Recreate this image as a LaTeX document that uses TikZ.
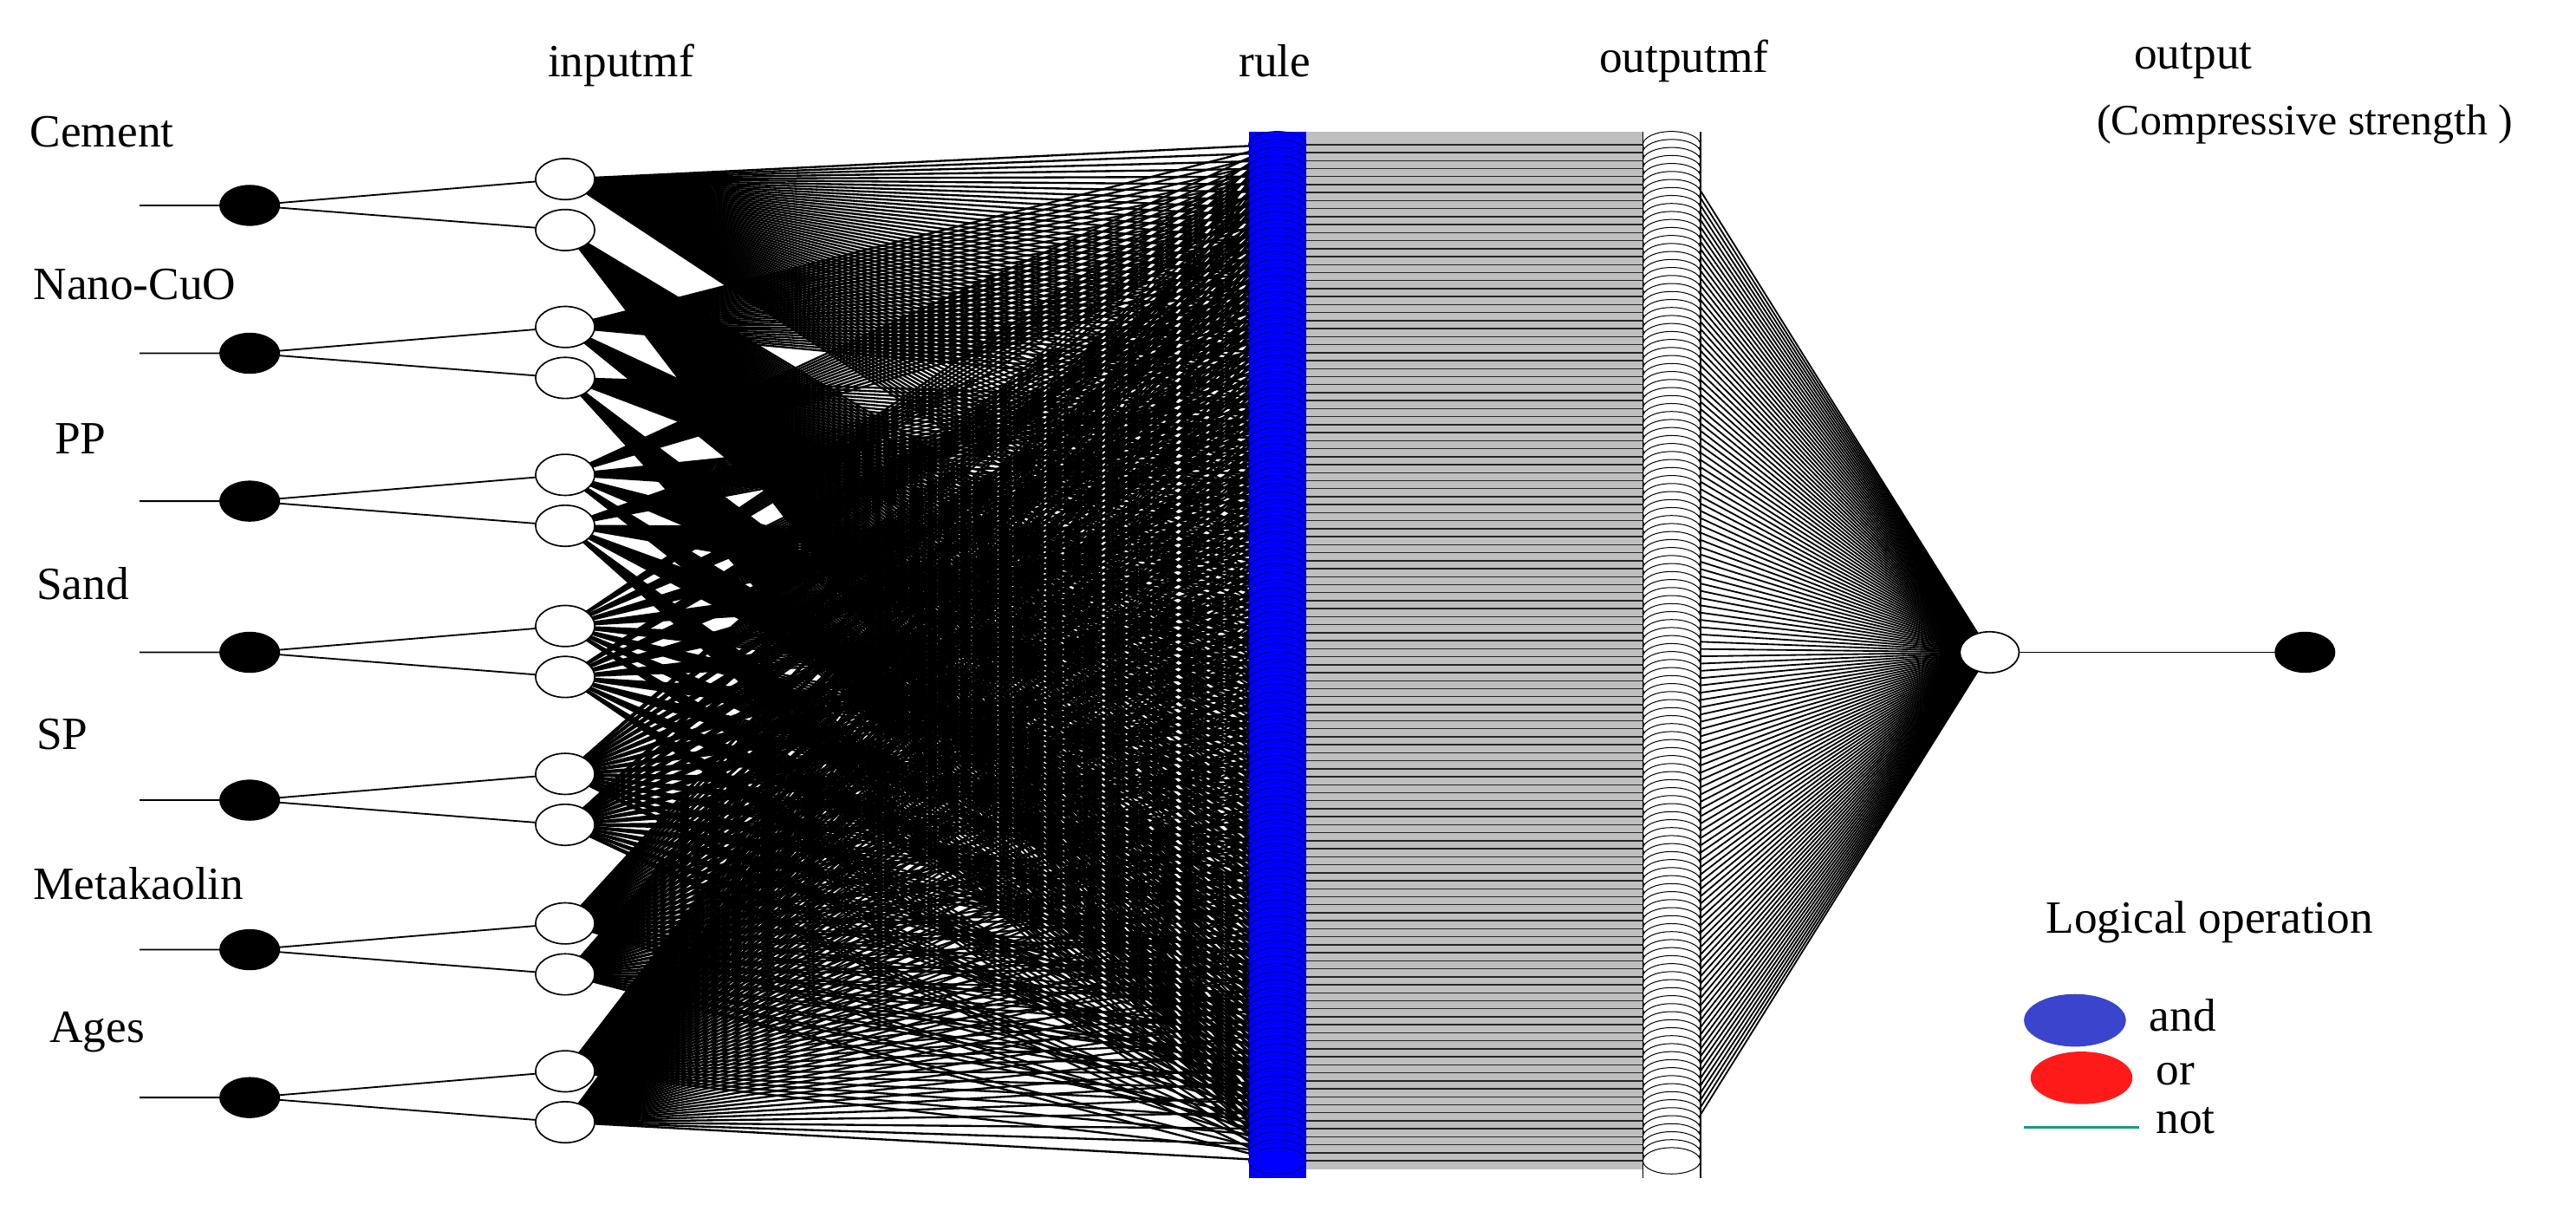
\documentclass[tikz,border=0pt]{standalone}
\usepackage{fontspec}
\setmainfont{Liberation Serif}
\usetikzlibrary{shapes.geometric,backgrounds}
\definecolor{andblue}{RGB}{58,68,204}
\definecolor{orred}{RGB}{255,26,26}
\definecolor{notgreen}{RGB}{20,160,125}
\tikzset{
    lbl/.style={font=\fontsize{16}{18}\selectfont, inner sep=0pt},
    innode/.style={ellipse, fill=black, inner sep=0pt, minimum width=0.74cm, minimum height=0.5cm},
    mfnode/.style={ellipse, draw, fill=white, line width=0.5pt, inner sep=0pt, minimum width=0.72cm, minimum height=0.5cm},
    rulenode/.style={ellipse, draw=blue!55!black, fill=blue, line width=0.3pt, inner sep=0pt, minimum width=0.7cm, minimum height=0.32cm},
    omfnode/.style={ellipse, draw, fill=white, line width=0.3pt, inner sep=0pt, minimum width=0.7cm, minimum height=0.32cm},
    wire/.style={line width=0.55pt},
    rulewire/.style={line width=0.7pt}
}
\newcommand{\infset}[2]{
    \node[innode] (in#1) at (152, #2) {};
    \node[mfnode] (mf#1-1) at (344, #2-16) {};
    \node[mfnode] (mf#1-2) at (344, #2+15) {};
    \coordinate (src#1) at (85, #2);
    \begin{pgfonlayer}{background}
        \draw[wire] (src#1) -- (in#1.center) -- (mf#1-1.center)
            (in#1.center) -- (mf#1-2.center);
    \end{pgfonlayer}
}

\begin{document}
\begin{tikzpicture}[x=0.02cm, y=-0.02cm]
    \useasboundingbox (0,0) rectangle (1568,737);

    \foreach \i/\y in {1/125, 2/215, 3/305, 4/397, 5/487, 6/578, 7/668} {
        \infset{\i}{\y}
    }
    \foreach \x/\y/\t[count=\i] in {18/80/Cement, 20/173/Nano-CuO, 33/267/PP, 22/355/Sand,
        22/447/SP, 20/538/Metakaolin, 30/628/Ages} {
        \node[lbl, anchor=west] (lab\i) at (\x, \y) {\t};
    }

    \fill[blue] (760, 80) rectangle (795, 717);
    \foreach \k in {1,...,128} {
        \node[rulenode] (r\k) at (777.5, {88+4.87*(\k-1)}) {};
    }
    \fill[white] (1000, 80) rectangle (1035, 717);
    \foreach \k in {1,...,128} {
        \node[omfnode] (om\k) at (1017.5, {88+4.87*(\k-1)}) {};
    }
    \draw[line width=0.5pt] (1000, 80) -- (1000, 717) (1035, 80) -- (1035, 717);
    \node[mfnode] (omf) at (1211, 397) {};
    \node[innode] (out) at (1403, 397) {};

    \begin{pgfonlayer}{background}
        \fill[black!25] ([yshift=0.16cm]r1.center) rectangle ([yshift=-0.1cm]om128.center);
        \foreach \k in {1,...,128} {
            \draw[black!85, line width=0.45pt] (r\k.center) -- (om\k.center);
            \draw[wire] (om\k.center) -- (omf.center);
            \foreach \i in {1,...,7} {
                \pgfmathtruncatemacro{\j}{mod(floor((\k-1)/2^(7-\i)),2)+1}
                \draw[rulewire] (mf\i-\j.center) -- (r\k.center);
            }
        }
        \draw[wire] (omf.center) -- (out.center);
    \end{pgfonlayer}

    \node[lbl] (hin) at (378, 40) {inputmf};
    \node[lbl] (hrule) at (776, 37) {rule};
    \node[lbl] (homf) at (1025, 37) {outputmf};
    \node[lbl] (hout) at (1335, 37) {output};
    \node[lbl, font=\fontsize{15}{17}\selectfont] (hcs) at (1403, 76) {(Compressive strength )};

    \node[lbl] (logic) at (1345, 561) {Logical operation};
    \node[ellipse, fill=andblue, inner sep=0pt, minimum width=1.24cm, minimum height=0.64cm] (andkey) at (1263, 621) {};
    \node[lbl, anchor=west] (andtxt) at (1308, 618) {and};
    \node[ellipse, fill=orred, inner sep=0pt, minimum width=1.24cm, minimum height=0.64cm] (orkey) at (1267, 656) {};
    \node[lbl, anchor=west] (ortxt) at (1312, 654) {or};
    \coordinate (nota) at (1232, 686);
    \coordinate (notb) at (1302, 686);
    \draw[notgreen, line width=0.8pt] (nota) -- (notb);
    \node[lbl, anchor=west] (nottxt) at (1312, 682) {not};
\end{tikzpicture}
\end{document}
